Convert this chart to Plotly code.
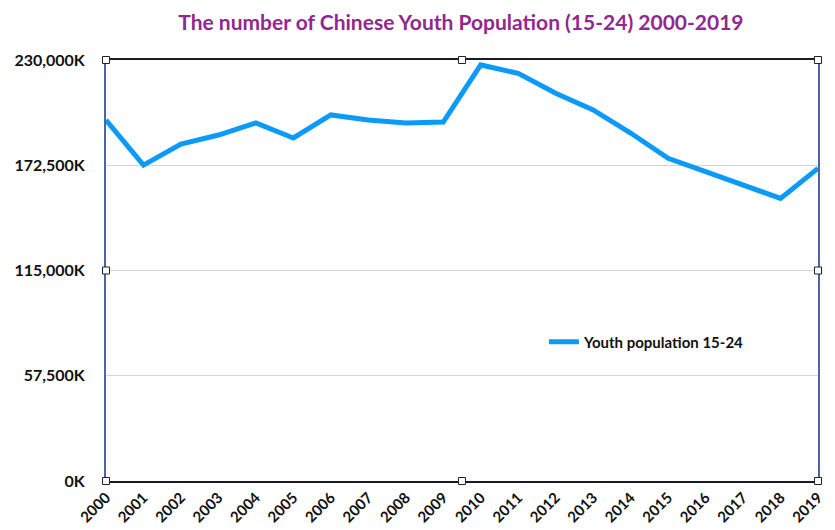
import plotly.graph_objects as go

# Youth population aged 15-24 in China, thousands of people
years = list(range(2000, 2020))
youth_pop = [197200, 172600, 184100, 189000, 195600, 187400, 200000, 197200,
             195600, 196100, 227300, 222700, 211800, 202700, 190100, 176300,
             169000, 161700, 154400, 170800]

y_ticks = [0, 57500, 115000, 172500, 230000]
y_tick_labels = ["0K", "57,500K", "115,000K", "172,500K", "230,000K"]
series_name = "Youth population 15-24"
title_text = "The number of Chinese Youth Population (15-24) 2000-2019"

font_family = "Lato, 'Open Sans', sans-serif"

fig = go.Figure()
fig.add_trace(go.Scatter(
    x=years, y=youth_pop, mode="lines", name=series_name,
    line=dict(color="#0A9BFA", width=5),
    showlegend=True,
))

# selection-style handles at the frame corners and midpoints
handle_pos = [(0, 1), (0.5, 1), (1, 1), (0, 0.5), (1, 0.5), (0, 0), (0.5, 0), (1, 0)]
shapes = []
for hx, hy in handle_pos:
    shapes.append(dict(
        type="rect", xref="paper", yref="paper",
        xsizemode="pixel", ysizemode="pixel",
        xanchor=hx, yanchor=hy, x0=-3.5, x1=3.5, y0=-3.5, y1=3.5,
        line=dict(color="#222222", width=1), fillcolor="white", layer="above",
    ))

fig.update_layout(
    width=835, height=530,
    margin=dict(l=106, r=17, t=60, b=49, autoexpand=False),
    paper_bgcolor="white", plot_bgcolor="white",
    font=dict(family=font_family, color="#111111"),
    title=dict(
        text="<b>" + title_text + "</b>",
        x=0.552, xanchor="center", y=0.958, yanchor="middle",
        font=dict(size=21, color="#92278F", family=font_family),
    ),
    showlegend=True,
    legend=dict(
        x=0.615, y=0.33, xanchor="left", yanchor="middle",
        bgcolor="rgba(0,0,0,0)", itemwidth=30,
        font=dict(size=15, color="#111111", family=font_family, weight="bold"),
    ),
    shapes=shapes,
)

fig.update_xaxes(
    range=[2000, 2019], tickmode="array", tickvals=years,
    ticktext=[str(y) for y in years], tickangle=-45,
    tickfont=dict(size=15, family=font_family, weight="bold", color="#111111"),
    showgrid=False, zeroline=False, automargin=False,
    showline=True, mirror=True, linecolor="#1A1A2A", linewidth=2,
    ticks="",
)
fig.update_yaxes(
    range=[0, 230000], tickmode="array", tickvals=y_ticks,
    ticktext=y_tick_labels, automargin=False,
    tickfont=dict(size=16, family=font_family, weight="bold", color="#111111"),
    showgrid=True, gridcolor="#D4D4D4", gridwidth=1, zeroline=False,
    showline=True, mirror=True, linecolor="#4F63A6", linewidth=2,
    ticks="", ticklabelstandoff=16,
)

fig.write_html("out.html")
